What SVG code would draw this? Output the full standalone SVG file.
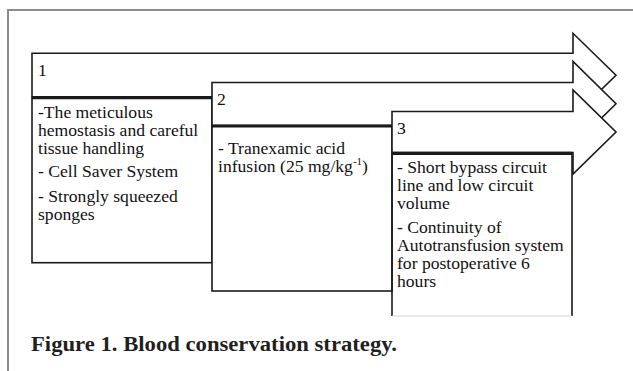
<svg xmlns="http://www.w3.org/2000/svg" width="633" height="371" viewBox="0 0 633 371">
<style>
.frame{fill:none;stroke:#8a8a8a;stroke-width:2}
.arrow{fill:#fff;stroke:#1a1a1a;stroke-width:1.6;stroke-linejoin:miter}
.box{fill:#fff;stroke:#1a1a1a;stroke-width:1.6}
.top{stroke:#1a1a1a;stroke-width:3.2}
.t{font-family:"Liberation Serif","Times New Roman",serif;font-size:17.6px;fill:#111}
.cap{font-family:"Liberation Serif","Times New Roman",serif;font-size:20.5px;font-weight:bold;fill:#231f20}
</style>
<rect width="633" height="371" fill="#fff"/>
<path class="frame" d="M8,371 V10 H633"/>
<g id="connectors"></g>
<g id="node1">
<polygon class="arrow" points="32,53.3 573,53.3 573,33.3 616,75.2 573,117 573,97 32,97"/>
<rect class="box" x="32" y="97.7" width="180" height="165"/>
<line class="top" x1="32" y1="97.7" x2="212" y2="97.7"/>
<text class="t" x="38" y="76">1</text>
<text class="t" x="38" y="118">-The meticulous</text>
<text class="t" x="38" y="136">hemostasis and careful</text>
<text class="t" x="38" y="154">tissue handling</text>
<text class="t" x="38" y="177">- Cell Saver System</text>
<text class="t" x="38" y="202">- Strongly squeezed</text>
<text class="t" x="38" y="220">sponges</text>
</g>
<g id="node2">
<polygon class="arrow" points="212,82.5 573,82.5 573,61.5 616,103.7 573,146 573,125.5 212,125.5"/>
<rect class="box" x="212" y="126" width="180" height="165"/>
<line class="top" x1="212" y1="126" x2="392" y2="126"/>
<text class="t" x="217" y="105">2</text>
<text class="t" x="218" y="154">- Tranexamic acid</text>
<text class="t" x="218" y="172">infusion (25 mg/kg<tspan font-size="11px" dy="-7">-1</tspan><tspan dy="7">)</tspan></text>
</g>
<g id="node3">
<polygon class="arrow" points="392,111.5 573,111.5 573,90 616,132 573,174 573,152.5 392,152.5"/>
<path class="box" d="M392,153.3 V316 M572,153.3 V316"/>
<line x1="392" y1="316" x2="572" y2="316" stroke="#d8d8d8" stroke-width="1.2"/>
<line class="top" x1="392" y1="153.3" x2="572" y2="153.3"/>
<text class="t" x="397" y="133.5">3</text>
<text class="t" x="397" y="173">- Short bypass circuit</text>
<text class="t" x="397" y="191">line and low circuit</text>
<text class="t" x="397" y="208.5">volume</text>
<text class="t" x="397" y="233">- Continuity of</text>
<text class="t" x="397" y="251">Autotransfusion system</text>
<text class="t" x="397" y="269">for postoperative 6</text>
<text class="t" x="397" y="287">hours</text>
</g>
<text class="cap" x="31" y="351" textLength="366" lengthAdjust="spacingAndGlyphs">Figure 1. Blood conservation strategy.</text>
</svg>
